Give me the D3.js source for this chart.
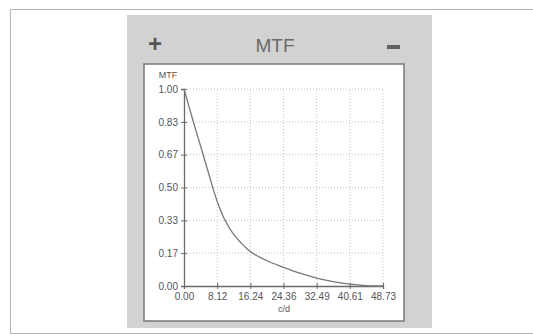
<!DOCTYPE html>
<html>
<head>
<meta charset="utf-8">
<script src="https://cdn.jsdelivr.net/npm/d3@7"></script>
<style>
  body { margin: 0; background: #fff; }
  text { font-family: "Liberation Sans", Arial, sans-serif; }
</style>
</head>
<body>
<div id="chart"></div>
<script>
// MTF curve, spatial frequency in c/d
const freq = [0, 2.2, 4.5, 6.9, 8.12, 9.9, 12.18, 16.24, 20.3, 24.36, 28.43, 32.49, 36.55, 40.61, 44.67, 48.73];
const mtf  = [1.0, 0.84, 0.68, 0.51, 0.43, 0.34, 0.262, 0.175, 0.128, 0.095, 0.065, 0.04, 0.022, 0.009, 0.002, 0.0];
const xTicks = [0, 8.12, 16.24, 24.36, 32.49, 40.61, 48.73];
const yTicks = [0, 0.167, 0.333, 0.5, 0.667, 0.833, 1.0];

const W = 533, H = 335;
const svg = d3.select("#chart").append("svg").attr("width", W).attr("height", H);

// scanned page frame
svg.append("path")
  .attr("d", "M533,9.5 H10.5 V333.5 H533")
  .attr("fill", "none").attr("stroke", "#b5b5b5").attr("stroke-width", 1);

// gray panel
svg.append("rect").attr("x", 127).attr("y", 15).attr("width", 305).attr("height", 313)
  .attr("fill", "#d2d2d2");

svg.append("text").attr("x", 275).attr("y", 52).attr("text-anchor", "middle")
  .attr("font-size", 19).attr("fill", "#6a6a6a").text("MTF");
svg.append("text").attr("x", 155).attr("y", 52).attr("text-anchor", "middle")
  .attr("font-size", 24).attr("font-weight", "bold").attr("fill", "#555").text("+");
svg.append("rect").attr("x", 387).attr("y", 45).attr("width", 13).attr("height", 4).attr("fill", "#606060");

// inner white box
svg.append("rect").attr("x", 144).attr("y", 64).attr("width", 260).attr("height", 257)
  .attr("fill", "#fff").attr("stroke", "#777").attr("stroke-width", 1.5);

const x = d3.scaleLinear().domain([0, 48.73]).range([184, 383]);
const y = d3.scaleLinear().domain([0, 1]).range([286, 89]);

// dotted grid
svg.append("g").selectAll("line").data(xTicks.slice(1)).join("line")
  .attr("x1", d => x(d)).attr("x2", d => x(d)).attr("y1", y(0)).attr("y2", y(1))
  .attr("stroke", "#c4c4c4").attr("stroke-dasharray", "1,2");
svg.append("g").selectAll("line").data(yTicks.slice(1)).join("line")
  .attr("x1", x(0)).attr("x2", x(48.73)).attr("y1", d => y(d)).attr("y2", d => y(d))
  .attr("stroke", "#c4c4c4").attr("stroke-dasharray", "1,2");

const xAxis = svg.append("g").attr("transform", "translate(0," + y(0) + ")")
  .call(d3.axisBottom(x).tickValues(xTicks).tickFormat(d3.format(".2f")).tickSize(3).tickPadding(4));
const yAxis = svg.append("g").attr("transform", "translate(" + x(0) + ",0)")
  .call(d3.axisLeft(y).tickValues(yTicks).tickFormat(d3.format(".2f")).tickSize(3).tickPadding(3));

[xAxis, yAxis].forEach(a => {
  a.select(".domain").attr("stroke", "#6a6a6a").attr("stroke-width", 1.3);
  a.selectAll(".tick line").attr("stroke", "#6a6a6a");
  a.selectAll(".tick text").attr("fill", "#555").attr("font-size", 10)
    .attr("font-family", "'Liberation Sans', Arial, sans-serif");
});
xAxis.selectAll(".tick line").attr("y1", -3);
yAxis.selectAll(".tick line").attr("x1", 3);

svg.append("text").attr("x", 168).attr("y", 78).attr("text-anchor", "middle")
  .attr("font-size", 9).attr("fill", "#555").text("MTF");
svg.append("text").attr("x", 284).attr("y", 312).attr("text-anchor", "middle")
  .attr("font-size", 9).attr("fill", "#555").text("c/d");

const line = d3.line().x((d, i) => x(freq[i])).y(d => y(d)).curve(d3.curveCatmullRom.alpha(0.5));
svg.append("path").datum(mtf).attr("d", line)
  .attr("fill", "none").attr("stroke", "#777").attr("stroke-width", 1.3);
</script>
</body>
</html>
